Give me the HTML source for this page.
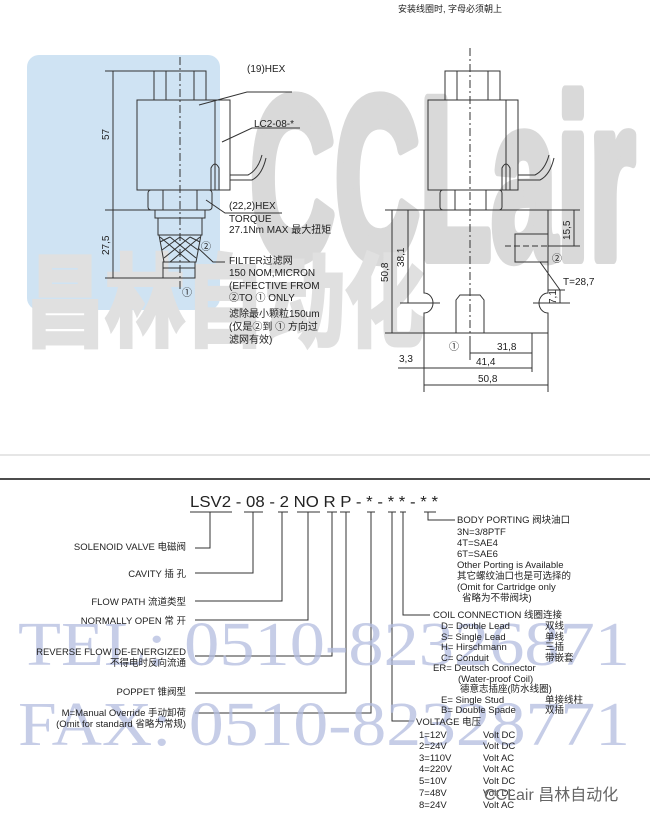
<!DOCTYPE html>
<html><head><meta charset="utf-8"><style>
html,body{margin:0;padding:0;background:#fff;width:650px;height:819px;overflow:hidden}
svg{display:block}
text{font-family:"Liberation Sans","Noto Sans CJK SC",sans-serif;fill:#222}
</style></head><body>
<svg width="650" height="819" viewBox="0 0 650 819" xmlns="http://www.w3.org/2000/svg">
<!-- watermark -->
<rect x="27" y="55" width="193" height="255" rx="12" fill="#cfe3f3"/>
<text x="250" y="258" font-size="230" font-weight="bold" style="fill:#d9d9d9;stroke:#d9d9d9;stroke-width:12;stroke-linejoin:round" textLength="385" lengthAdjust="spacingAndGlyphs">CCLair</text>
<text x="25" y="338" font-size="100" font-weight="bold" style="fill:#e0e0e0;stroke:#e0e0e0;stroke-width:4;font-family:'Noto Sans CJK SC',sans-serif" textLength="400" lengthAdjust="spacingAndGlyphs">昌林自动化</text>
<line x1="0" y1="455" x2="650" y2="455" stroke="#e6e6e6" stroke-width="2"/>

<g stroke="#333" stroke-width="1" fill="none">
<!-- left drawing -->
<line x1="180" y1="57" x2="180" y2="290" stroke-dasharray="8,3,2,3"/>
<rect x="154" y="71" width="52" height="29"/>
<line x1="166" y1="71" x2="166" y2="100"/><line x1="194" y1="71" x2="194" y2="100"/>
<rect x="137" y="100" width="93" height="90"/>
<line x1="215" y1="100" x2="215" y2="190"/>
<path d="M211 190 V168 Q215 160 219 168 V190"/>
<path d="M230 175 H248 Q258 170 262 155 M230 180 H252 Q262 175 266 158"/>
<rect x="148" y="190" width="64" height="20" rx="3"/>
<line x1="163" y1="190" x2="163" y2="210"/><line x1="197" y1="190" x2="197" y2="210"/>
<rect x="155" y="210" width="50" height="8"/>
<rect x="158" y="218" width="44" height="17"/>
<path d="M159 235 L164 262 H196 L201 235 Z"/>
<path d="M160 237 L190 262 M170 237 L196 258 M180 237 L198 250 M190 237 L200 242 M200 237 L170 262 M190 237 L164 258 M180 237 L162 250 M170 237 L160 242"/>
<rect x="163" y="262" width="32" height="16"/>
<line x1="163" y1="268" x2="195" y2="268"/>
<line x1="105" y1="71" x2="154" y2="71"/><line x1="105" y1="210" x2="155" y2="210"/><line x1="105" y1="278" x2="163" y2="278"/>
<line x1="113" y1="71" x2="113" y2="278"/>
<path d="M199 105 L247 92 H292 M222 142 L252 128 H300 M206 200 L225 213 H282 M198 248 L213 262 H225"/>
<!-- right drawing -->
<line x1="470" y1="48" x2="470" y2="358" stroke-dasharray="8,3,2,3"/>
<rect x="445" y="71" width="55" height="29"/>
<line x1="457" y1="71" x2="457" y2="100"/><line x1="488" y1="71" x2="488" y2="100"/>
<rect x="428" y="100" width="90" height="90"/>
<line x1="506" y1="100" x2="506" y2="190"/>
<path d="M502 190 V168 Q506 160 510 168 V190"/>
<path d="M518 175 H535 Q545 170 549 155 M518 180 H540 Q550 175 554 158"/>
<rect x="440" y="190" width="62" height="20" rx="3"/>
<line x1="455" y1="190" x2="455" y2="210"/><line x1="486" y1="190" x2="486" y2="210"/>
<path d="M424 210 H548 V293 A9 10 0 0 0 548 313 V333 H424 V313 A9 10 0 0 0 424 293 Z"/>
<path d="M456 333 V300 L460 295 H480 L484 300 V333"/>
<path d="M548 234 H515 V262 H548"/>
<line x1="505" y1="246" x2="560" y2="246" stroke-dasharray="6,3"/>
<line x1="400" y1="303" x2="440" y2="303"/><line x1="533" y1="303" x2="570" y2="303"/>
<line x1="385" y1="210" x2="424" y2="210"/><line x1="385" y1="333" x2="424" y2="333"/>
<line x1="392" y1="210" x2="392" y2="333"/>
<line x1="408" y1="210" x2="408" y2="303"/>
<line x1="548" y1="210" x2="580" y2="210"/><line x1="548" y1="246" x2="580" y2="246"/>
<line x1="574" y1="210" x2="574" y2="246"/>
<line x1="560" y1="290" x2="560" y2="303"/><line x1="548" y1="290" x2="565" y2="290"/>
<path d="M540 262 L560 290"/>
<line x1="424" y1="333" x2="424" y2="392"/><line x1="548" y1="333" x2="548" y2="392"/>
<line x1="532" y1="333" x2="532" y2="372"/><line x1="470" y1="340" x2="470" y2="360"/>
<line x1="470" y1="353" x2="532" y2="353"/>
<line x1="398" y1="368" x2="532" y2="368"/>
<line x1="424" y1="385" x2="548" y2="385"/>
<!-- separator -->
<line x1="0" y1="479" x2="650" y2="479" stroke="#111" stroke-width="1.5"/>
<!-- code connectors -->
<path d="M190 512 H232 M244 512 H263 M278 512 H288 M297 512 H320 M327 512 H337 M340 512 H350 M367 512 H375 M388 512 H396 M400 512 H406 M424 512 H436"/>
<path d="M195 548 H210 V512 M195 573 H253 V512 M195 601 H282 V512 M195 620 H308 V512 M195 656 H332 V512 M195 693 H346 V512 M195 713 H371 V512"/>
<path d="M392 512 V721 H414 M403 512 V615 H430 M428 512 V520 H455"/>
</g>

<g font-size="10">
<text x="398" y="12" font-size="9">安装线圈时, 字母必须朝上</text>
<text x="247" y="72">(19)HEX</text>
<text x="254" y="127">LC2-08-*</text>
<text x="229" y="209">(22,2)HEX</text>
<text x="229" y="222">TORQUE</text>
<text x="229" y="233">27.1Nm MAX 最大扭矩</text>
<text x="201" y="250">②</text>
<text x="229" y="264">FILTER过滤网</text>
<text x="229" y="276">150 NOM,MICRON</text>
<text x="229" y="289">(EFFECTIVE  FROM</text>
<text x="229" y="301">②TO ① ONLY</text>
<text x="229" y="317">滤除最小颗粒150um</text>
<text x="229" y="330">(仅是②到 ① 方向过</text>
<text x="229" y="343">滤网有效)</text>
<text x="182" y="296">①</text>
<text transform="translate(109,140) rotate(-90)">57</text>
<text transform="translate(109,255) rotate(-90)">27,5</text>
<text transform="translate(388,282) rotate(-90)">50,8</text>
<text transform="translate(404,267) rotate(-90)">38,1</text>
<text transform="translate(570,240) rotate(-90)">15,5</text>
<text transform="translate(556,304) rotate(-90)">7,1</text>
<text x="552" y="262">②</text>
<text x="563" y="285">T=28,7</text>
<text x="449" y="350">①</text>
<text x="497" y="350">31,8</text>
<text x="399" y="362">3,3</text>
<text x="476" y="365">41,4</text>
<text x="478" y="382">50,8</text>
</g>

<!-- phone watermark -->
<g font-size="62" opacity="0.75">
<text x="18" y="665" style="fill:#b4bde0;font-family:'Liberation Serif',serif" textLength="612" lengthAdjust="spacingAndGlyphs">TEL: 0510-82326871</text>
<text x="18" y="745" style="fill:#b4bde0;font-family:'Liberation Serif',serif" textLength="612" lengthAdjust="spacingAndGlyphs">FAX: 0510-82328771</text>
</g>

<text x="190" y="507" font-size="16" textLength="248" lengthAdjust="spacingAndGlyphs">LSV2 - 08 - 2  NO R P - * - * * - * *</text>

<g font-size="9.5" text-anchor="end">
<text x="186" y="550">SOLENOID VALVE  电磁阀</text>
<text x="186" y="577">CAVITY  插 孔</text>
<text x="186" y="605">FLOW  PATH  流道类型</text>
<text x="186" y="624">NORMALLY OPEN  常 开</text>
<text x="186" y="655">REVERSE FLOW DE-ENERGIZED</text>
<text x="186" y="666">不得电时反向流通</text>
<text x="186" y="695">POPPET  锥阀型</text>
<text x="186" y="716">M=Manual Override  手动卸荷</text>
<text x="186" y="727">(Omit for standard  省略为常规)</text>
</g>
<g font-size="9.5">
<text x="457" y="523">BODY PORTING 阀块油口</text>
<text x="457" y="535">3N=3/8PTF</text>
<text x="457" y="546">4T=SAE4</text>
<text x="457" y="557">6T=SAE6</text>
<text x="457" y="568">Other Porting is Available</text>
<text x="457" y="579">其它螺纹油口也是可选择的</text>
<text x="457" y="590">(Omit for Cartridge only</text>
<text x="462" y="601">省略为不带阀块)</text>
<text x="433" y="618">COIL CONNECTION   线圈连接</text>
<text x="441" y="629">D= Double Lead</text><text x="545" y="629">双线</text>
<text x="441" y="640">S= Single Lead</text><text x="545" y="640">单线</text>
<text x="441" y="650">H= Hirschmann</text><text x="545" y="650">三插</text>
<text x="441" y="661">C= Conduit</text><text x="545" y="661">带嵌套</text>
<text x="433" y="671">ER= Deutsch Connector</text>
<text x="458" y="682">(Water-proof Coil)</text>
<text x="460" y="692">德意志插座(防水线圈)</text>
<text x="441" y="703">E= Single Stud</text><text x="545" y="703">单接线柱</text>
<text x="441" y="713">B= Double Spade</text><text x="545" y="713">双插</text>
<text x="416" y="725">VOLTAGE     电压</text>
<text x="419" y="738">1=12V</text><text x="483" y="738">Volt  DC</text>
<text x="419" y="749">2=24V</text><text x="483" y="749">Volt  DC</text>
<text x="419" y="761">3=110V</text><text x="483" y="761">Volt  AC</text>
<text x="419" y="772">4=220V</text><text x="483" y="772">Volt  AC</text>
<text x="419" y="784">5=10V</text><text x="483" y="784">Volt  DC</text>
<text x="419" y="796">7=48V</text><text x="483" y="796">Volt  DC</text>
<text x="419" y="808">8=24V</text><text x="483" y="808">Volt  AC</text>
</g>
<text x="484" y="800" font-size="16" style="fill:#666">CCLair 昌林自动化</text>
</svg>
</body></html>
